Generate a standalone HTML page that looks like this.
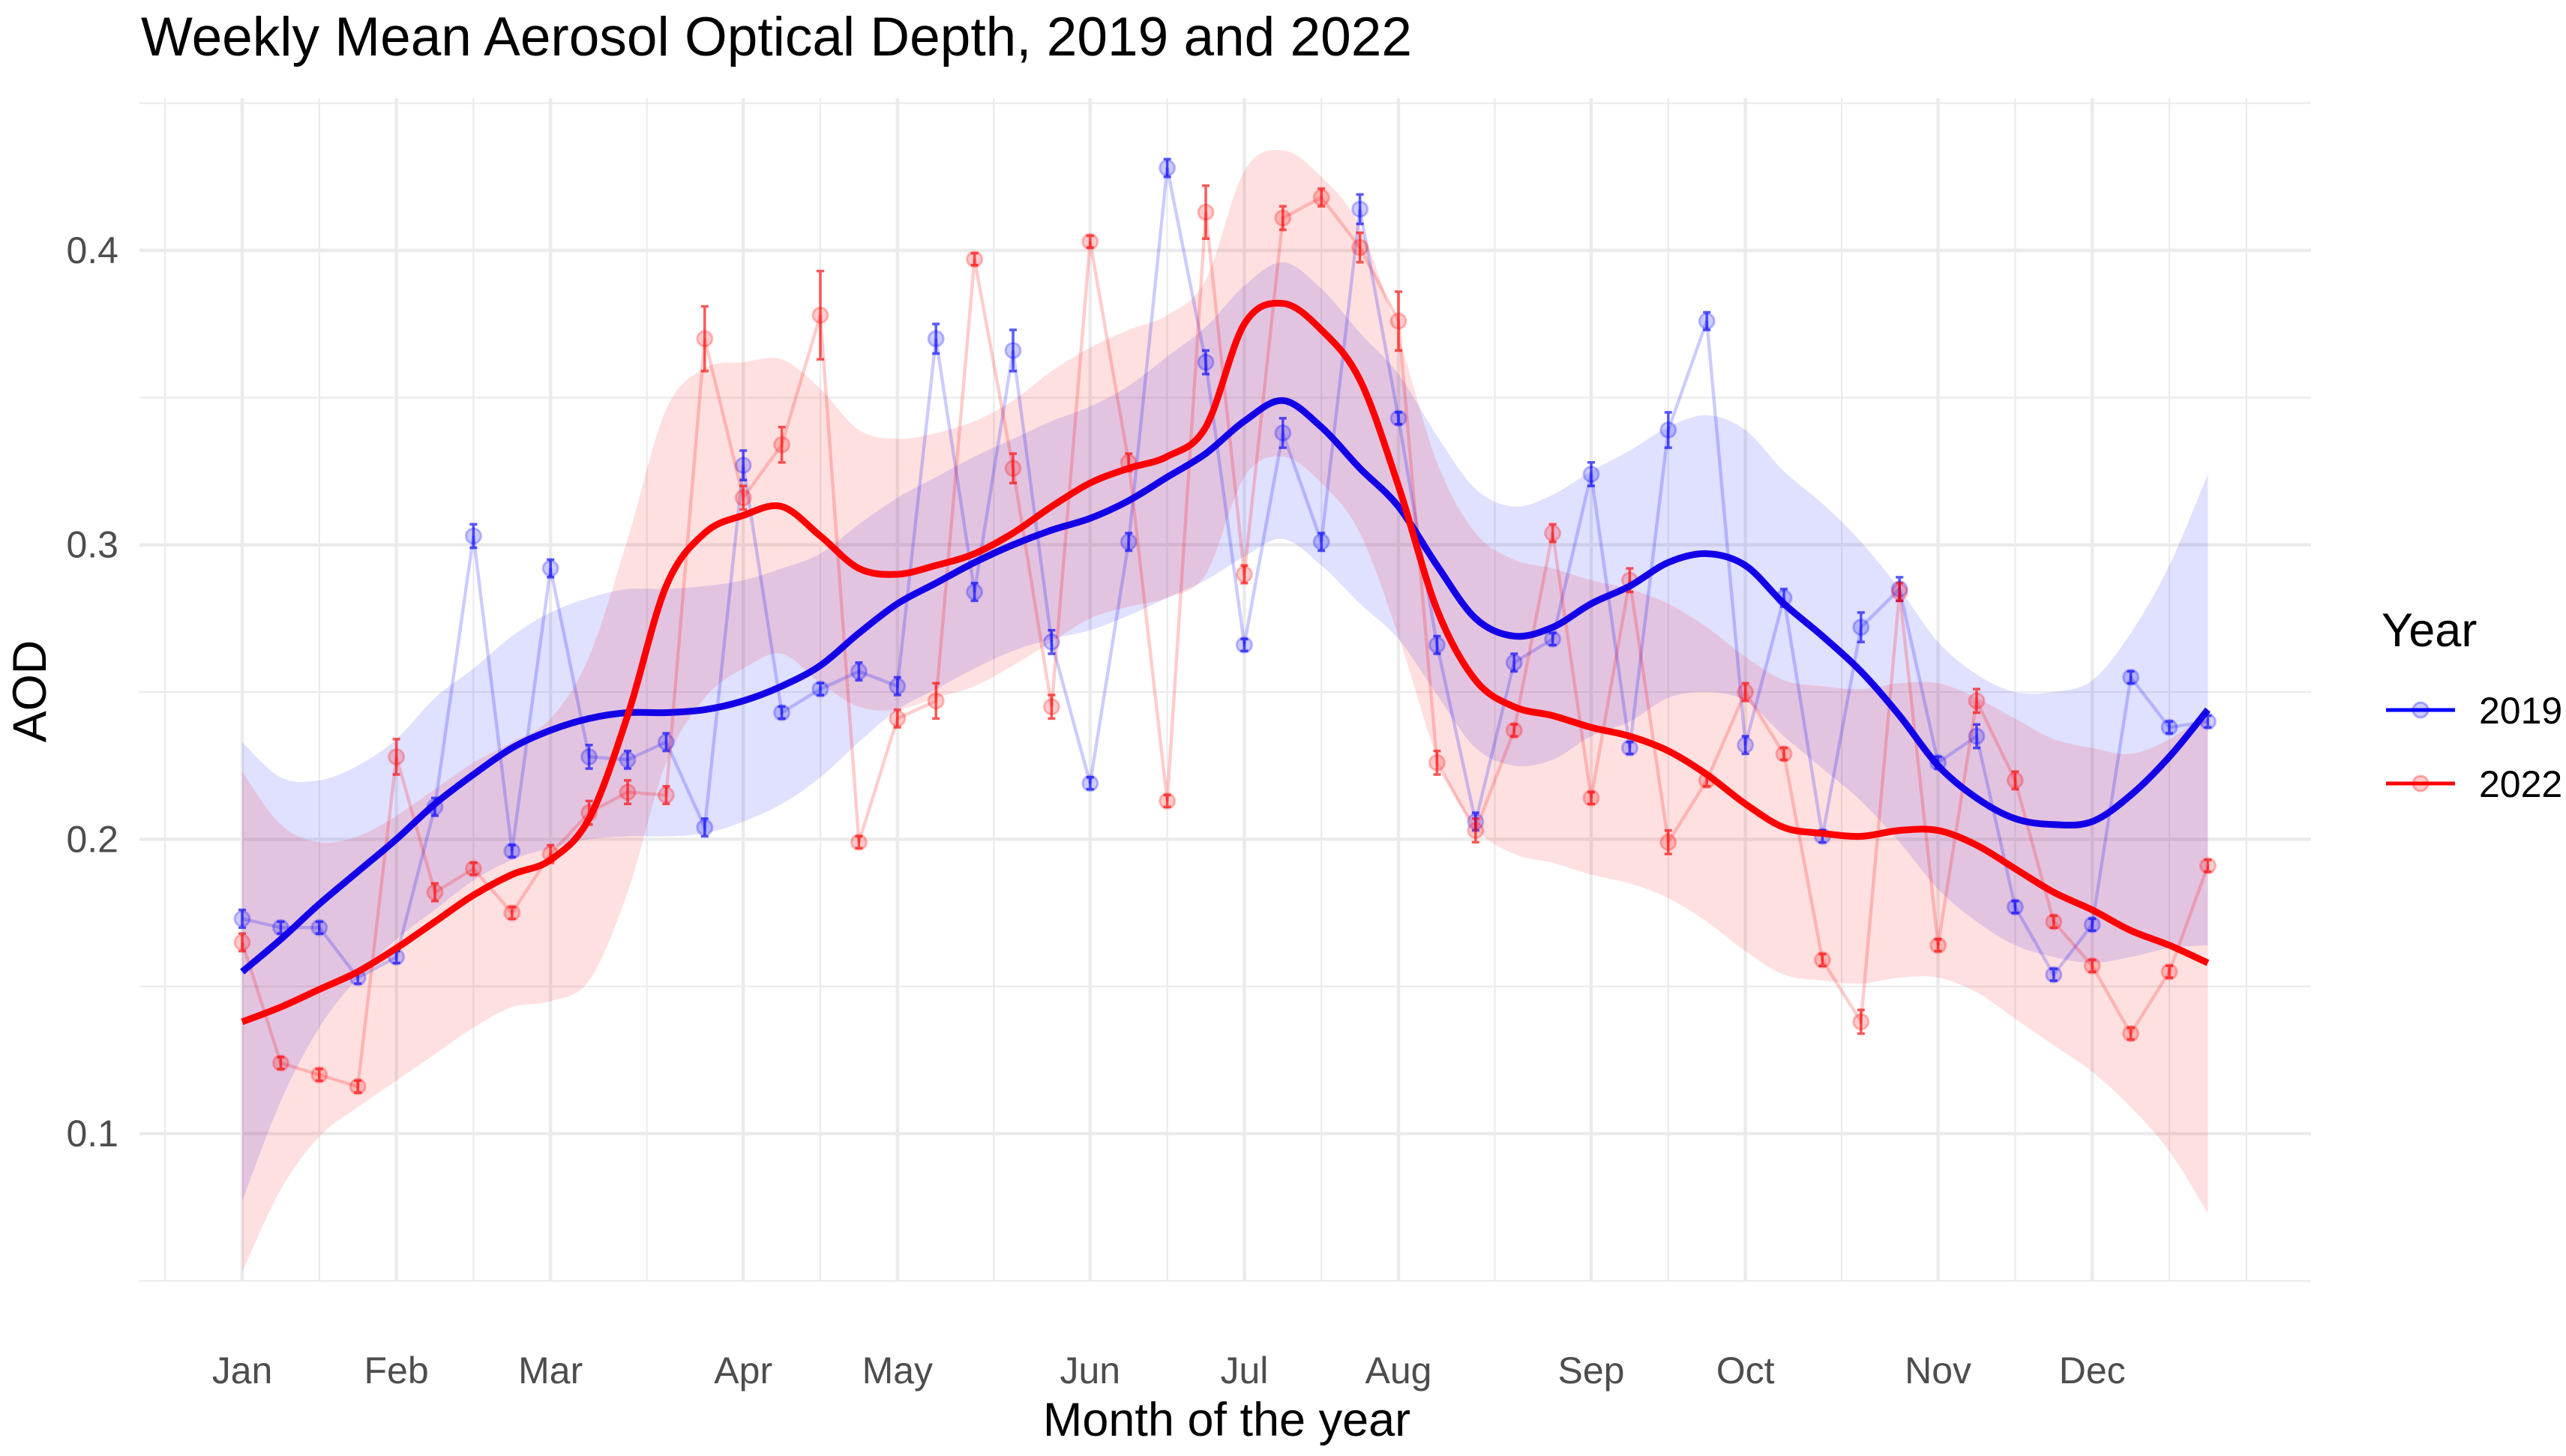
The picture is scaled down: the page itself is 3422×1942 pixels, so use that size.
<!DOCTYPE html>
<html><head><meta charset="utf-8">
<style>
html,body{margin:0;padding:0;background:#fff;}
svg{display:block;font-family:"Liberation Sans",sans-serif;}
</style></head>
<body>
<svg id="chart" width="3422" height="1942" viewBox="0 0 3422 1942" xmlns="http://www.w3.org/2000/svg">
<rect x="0" y="0" width="3422" height="1942" fill="#fff"/>
<text x="188" y="74" font-size="73" fill="#000">Weekly Mean Aerosol Optical Depth, 2019 and 2022</text>
<g id="grid"></g>
<g id="ribbons"></g>
<g id="series"></g>
<g id="smooth"></g>
<g id="axes"></g>
<text x="1636" y="1915" font-size="63" text-anchor="middle" fill="#000">Month of the year</text>
<text transform="translate(61,922) rotate(-90)" font-size="63" text-anchor="middle" fill="#000">AOD</text>
<g>
<text x="3176" y="862" font-size="63" fill="#000">Year</text>
<g>
<line x1="3182" y1="947" x2="3274" y2="947" stroke="#0000ff" stroke-width="5"/>
<circle cx="3228" cy="947" r="10" fill="rgba(0,0,255,0.2)" stroke="rgba(0,0,255,0.3)" stroke-width="3"/>
<text x="3306" y="965" font-size="50" fill="#000">2019</text>
</g>
<g>
<line x1="3182" y1="1045" x2="3274" y2="1045" stroke="#ff0000" stroke-width="5"/>
<circle cx="3228" cy="1045" r="10" fill="rgba(255,0,0,0.2)" stroke="rgba(255,0,0,0.3)" stroke-width="3"/>
<text x="3306" y="1063" font-size="50" fill="#000">2022</text>
</g>
</g>
</svg>
<script>
// ---- data ----
const monthLabels = ["Jan","Feb","Mar","Apr","May","Jun","Jul","Aug","Sep","Oct","Nov","Dec"];
const monthWeeks = [0,4,8,13,17,22,26,30,35,39,44,48];
const minorWeeks = [-2,2,6,10.5,15,19.5,24,28,32.5,37,41.5,46,50,52];
const yTicks = [0.1,0.2,0.3,0.4];
const yTickLabels = ["0.1","0.2","0.3","0.4"];
const yMinor = [0.05,0.15,0.25,0.35,0.45];
const aod2019 = [0.173,0.170,0.170,0.153,0.160,0.211,0.303,0.196,0.292,0.228,0.227,0.233,0.204,0.327,0.243,0.251,0.257,0.252,0.370,0.284,0.366,0.267,0.219,0.301,0.428,0.362,0.266,0.338,0.301,0.414,0.343,0.266,0.206,0.260,0.268,0.324,0.231,0.339,0.376,0.232,0.282,0.201,0.272,0.285,0.226,0.235,0.177,0.154,0.171,0.255,0.238,0.240];
const aod2022 = [0.165,0.124,0.120,0.116,0.228,0.182,0.190,0.175,0.195,0.209,0.216,0.215,0.370,0.316,0.334,0.378,0.199,0.241,0.247,0.397,0.326,0.245,0.403,0.328,0.213,0.413,0.290,0.411,0.418,0.401,0.376,0.226,0.203,0.237,0.304,0.214,0.288,0.199,0.220,0.250,0.229,0.159,0.138,0.284,0.164,0.247,0.220,0.172,0.157,0.134,0.155,0.191];
const err2019 = [0.003,0.002,0.002,0.002,0.002,0.003,0.004,0.002,0.003,0.004,0.003,0.003,0.003,0.005,0.002,0.002,0.003,0.003,0.005,0.003,0.007,0.004,0.002,0.003,0.003,0.004,0.002,0.005,0.003,0.005,0.002,0.003,0.003,0.003,0.002,0.004,0.002,0.006,0.003,0.003,0.003,0.002,0.005,0.004,0.002,0.004,0.002,0.002,0.002,0.002,0.002,0.002];
const err2022 = [0.003,0.002,0.002,0.002,0.006,0.003,0.002,0.002,0.003,0.004,0.004,0.003,0.011,0.004,0.006,0.015,0.002,0.003,0.006,0.002,0.005,0.004,0.002,0.003,0.002,0.009,0.003,0.004,0.003,0.005,0.010,0.004,0.004,0.002,0.003,0.002,0.004,0.004,0.002,0.003,0.002,0.002,0.004,0.003,0.002,0.004,0.003,0.002,0.002,0.002,0.002,0.002];
const smooth2019 = [0.155,0.166,0.178,0.189,0.200,0.212,0.222,0.231,0.237,0.241,0.243,0.243,0.244,0.247,0.252,0.259,0.270,0.280,0.287,0.294,0.300,0.305,0.309,0.315,0.323,0.331,0.342,0.349,0.340,0.326,0.313,0.293,0.275,0.269,0.272,0.280,0.286,0.294,0.297,0.293,0.280,0.269,0.257,0.242,0.225,0.214,0.207,0.205,0.206,0.215,0.228,0.244];
const se2019 = [0.078,0.055,0.042,0.036,0.034,0.036,0.036,0.038,0.040,0.041,0.042,0.042,0.042,0.041,0.040,0.038,0.037,0.036,0.036,0.036,0.036,0.037,0.038,0.039,0.041,0.043,0.046,0.047,0.047,0.046,0.045,0.044,0.044,0.044,0.045,0.045,0.046,0.046,0.047,0.046,0.045,0.045,0.044,0.043,0.042,0.042,0.043,0.045,0.048,0.055,0.065,0.080];
const smooth2022 = [0.138,0.143,0.149,0.155,0.163,0.172,0.181,0.188,0.193,0.207,0.242,0.286,0.304,0.310,0.313,0.303,0.292,0.290,0.293,0.297,0.304,0.313,0.321,0.326,0.330,0.340,0.375,0.382,0.373,0.356,0.320,0.278,0.254,0.245,0.242,0.238,0.235,0.230,0.222,0.212,0.204,0.202,0.201,0.203,0.203,0.198,0.190,0.182,0.176,0.169,0.164,0.158];
const se2022 = [0.085,0.062,0.050,0.046,0.045,0.045,0.045,0.045,0.048,0.055,0.060,0.060,0.056,0.052,0.050,0.050,0.047,0.046,0.045,0.045,0.045,0.046,0.046,0.047,0.048,0.050,0.052,0.052,0.052,0.052,0.051,0.050,0.050,0.050,0.050,0.050,0.050,0.050,0.050,0.050,0.050,0.050,0.050,0.050,0.050,0.050,0.051,0.052,0.055,0.060,0.070,0.085];

// ---- axes ----
const NS = "http://www.w3.org/2000/svg";
const X0 = 323, XSTEP = 51.4, Y04 = 334, YPER = 3927;
const PL = 186, PR = 3082, PT = 131, PB = 1709;
function xs(w){ return X0 + w*XSTEP; }
function ys(v){ return Y04 + (0.4 - v)*YPER; }
function mk(tag, attrs, parent){
  const e = document.createElementNS(NS, tag);
  for (const k in attrs) e.setAttribute(k, attrs[k]);
  parent.appendChild(e); return e;
}
const grid = document.getElementById('grid');
yMinor.forEach(v=>{
  const l = mk('line',{x1:PL,x2:PR,y1:ys(v),y2:ys(v),stroke:'#ebebeb','stroke-width':2.2},grid);
  
  
});
minorWeeks.forEach(w=>{
  const l = mk('line',{x1:xs(w),x2:xs(w),y1:PT,y2:PB,stroke:'#ebebeb','stroke-width':2.2},grid);
  
  
});
yTicks.forEach(v=>{
  const l = mk('line',{x1:PL,x2:PR,y1:ys(v),y2:ys(v),stroke:'#ebebeb','stroke-width':4.4},grid);
  
  
});
monthWeeks.forEach(w=>{
  const l = mk('line',{x1:xs(w),x2:xs(w),y1:PT,y2:PB,stroke:'#ebebeb','stroke-width':4.4},grid);
  
  
});
const axes = document.getElementById('axes');
yTicks.forEach((v,i)=>{
  const t = mk('text',{x:158,y:ys(v)+17,'font-size':50,'text-anchor':'end',fill:'#4d4d4d'},axes);
  t.textContent = yTickLabels[i];
  
  
});
monthWeeks.forEach((w,i)=>{
  const t = mk('text',{x:xs(w),y:1845,'font-size':50,'text-anchor':'middle',fill:'#4d4d4d'},axes);
  t.textContent = monthLabels[i];
  
  
});

// ---- series ----
function smoothPath(pts){
  let d = 'M'+pts[0][0]+','+pts[0][1];
  for (let i=0;i<pts.length-1;i++){
    const p0 = pts[Math.max(0,i-1)], p1 = pts[i], p2 = pts[i+1], p3 = pts[Math.min(pts.length-1,i+2)];
    const c1x = p1[0]+(p2[0]-p0[0])/6, c1y = p1[1]+(p2[1]-p0[1])/6;
    const c2x = p2[0]-(p3[0]-p1[0])/6, c2y = p2[1]-(p3[1]-p1[1])/6;
    d += ' C'+c1x+','+c1y+' '+c2x+','+c2y+' '+p2[0]+','+p2[1];
  }
  return d;
}
function ribbon(sm, se, color, name){
  const up = sm.map((v,i)=>[xs(i), ys(v+se[i])]);
  const lo = sm.map((v,i)=>[xs(i), ys(v-se[i])]).reverse();
  const lp = smoothPath(lo);
  let d = smoothPath(up);
  d += ' L'+lo[0][0]+','+lo[0][1] + lp.slice(lp.indexOf(' C')) + ' Z';
  const p = mk('path',{d:d,fill:color,'fill-opacity':0.12,stroke:'none'},document.getElementById('ribbons'));
  
  
}
ribbon(smooth2019, se2019, '#0000ff', 'ribbon-2019');
ribbon(smooth2022, se2022, '#ff0000', 'ribbon-2022');

function series(vals, errs, color, name){
  const g = mk('g',{},document.getElementById('series'));
  
  
  const pl = mk('polyline',{points:vals.map((v,i)=>xs(i)+','+ys(v)).join(' '),fill:'none',stroke:color,'stroke-opacity':0.2,'stroke-width':4.4},g);
  
  
  vals.forEach((v,i)=>{
    const c = mk('circle',{cx:xs(i),cy:ys(v),r:10,fill:color,'fill-opacity':0.2,stroke:color,'stroke-opacity':0.25,'stroke-width':3},g);
    
    
    const x = xs(i), y1 = ys(v+errs[i]), y2 = ys(v-errs[i]);
    const e = mk('path',{d:'M'+(x-5)+','+y1+' H'+(x+5)+' M'+x+','+y1+' V'+y2+' M'+(x-5)+','+y2+' H'+(x+5),stroke:color,'stroke-opacity':0.65,'stroke-width':3.5,fill:'none'},g);
    
    
  });
}
series(aod2019, err2019, '#0000ff', 'series-2019');
series(aod2022, err2022, '#ff0000', 'series-2022');

function smoothLine(sm, color, name){
  const p = mk('path',{d:smoothPath(sm.map((v,i)=>[xs(i),ys(v)])),fill:'none',stroke:color,'stroke-width':9,'stroke-linejoin':'round'},document.getElementById('smooth'));
  
  
}
smoothLine(smooth2019, '#1400e6', 'smooth-2019');
smoothLine(smooth2022, '#ff0000', 'smooth-2022');
</script>
</body></html>
